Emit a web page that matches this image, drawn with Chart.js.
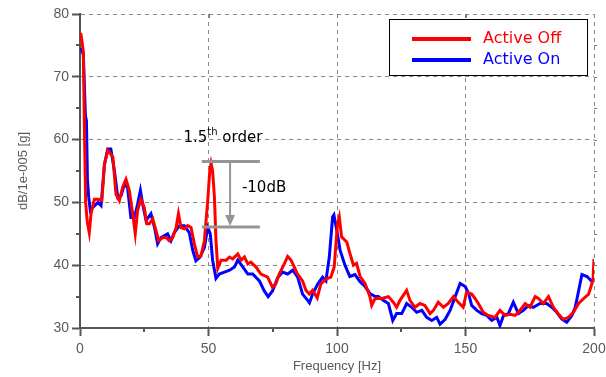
<!DOCTYPE html>
<html>
<head>
<meta charset="utf-8">
<script src="https://cdn.jsdelivr.net/npm/chart.js@4/dist/chart.umd.min.js"></script>
<style>
html,body{margin:0;padding:0;background:#fff;}
#wrap{width:606px;height:377px;position:relative;}
</style>
</head>
<body>
<div id="wrap"><canvas id="c" width="606" height="377"></canvas></div>
<script>
const seriesNames = ['Active Off', 'Active On'];
const freqOff = [0.3,1.3,1.7,2.2,2.8,3.6,4.3,5.6,7,8.5,9.5,10.8,11.5,12.8,14,15.3,16.6,17.9,19.2,20.5,21.5,22.4,23.7,25,26,27,28.3,29.6,30.6,32.2,33.5,34.7,36.1,37.4,38.3,39.3,40.6,41.9,43.2,44.5,45.8,47.1,48.4,49.7,50.5,51,51.6,52.3,52.9,53.6,54.9,56.9,58.2,59.4,61.4,62.7,64,65.3,66.5,68.5,70.4,73,74.9,76.2,77.5,79.5,80.8,82.1,83.4,84.6,86.6,87.9,89.2,90.5,92.3,93.7,95.7,97.6,98.9,100.2,100.9,101.8,103.8,105,106.4,107.6,109,110.9,112.8,113.5,114.8,117.4,120,121.9,123.2,124.5,127.1,128.4,130.3,132.3,134.2,136.2,137.5,139.4,141.4,143.3,145.3,147.2,149.1,150.4,152.4,153.7,155,156.9,158.9,161.5,163.4,165.4,167.3,169.3,171.2,173.2,175.1,177.1,178.4,180.3,182.3,184.2,186.2,188.1,190.1,192,194,196,197.9,199.6,200];
const dbOff = [77,74,62,50,47,45.2,48.2,50.5,50.5,50.3,56,58.3,58,57.2,51.3,50.3,52.4,53.7,51.9,48.2,45,48.7,50.5,49.2,46.6,46.6,47.4,45.5,43.9,44.4,44.4,43.9,44.4,46,48.2,46,45.8,46.3,46,43.4,41.3,41.5,43.9,50.3,55,56.2,55,50.9,44,39.5,40.8,40.8,41.3,41,41.8,40.8,41.3,40.2,40.5,39.7,38.6,38.1,36.5,37,38.6,40.2,41.4,40.8,39.7,38.6,37.5,36,35.4,36,34.8,37,37.8,38.1,39.7,46.6,47.7,44.5,43.7,41.9,40,40.3,38.2,37.1,35,33.6,34.7,34.7,35,34.1,33.3,34.4,36,34.4,33.3,33.9,33.6,32.3,32.8,34.1,33.3,33.9,35,34.1,33.3,35.7,35.4,34.7,33.9,32.5,32,31.7,32.8,32,32.2,32,32.8,33.9,33.3,35,34.7,33.9,35,33.3,32.2,31.4,31.7,32.5,33.9,34.7,35.4,37.6,41];
const freqOn = [0.4,1.3,2.1,2.5,2.9,3.4,4,5,7,8.2,9.5,10.8,12,13.4,14.7,16,17.3,18.5,19.8,21.2,22.4,23.5,24.4,25.7,27.6,29,30.2,31.5,34.1,35.4,36.7,38.7,40.6,42.5,43.9,45.1,46.7,48.4,49.7,50.7,51.6,52.9,54.2,56.2,58.2,60.1,61.4,63.4,65.3,67.2,69.8,71.7,73.2,74.9,76.9,78.8,80.8,82.8,84.7,86.6,88.6,89.3,90.5,92.5,94.4,95.7,97,98.3,98.8,99.9,101.2,103.1,105,107,108.9,110.9,112.8,114.8,116.1,118,120,121.7,123.2,125.2,127.1,129.1,131,133,134.9,136.9,138.8,140.1,142.1,144,146,147.9,149.9,151.2,152.4,154.4,156.3,158.3,160.2,162.2,163.4,164.8,166.7,168.6,170.6,172.5,174.5,176.4,179,181.6,183.6,185.5,187.5,189.4,191.4,192.7,194,195.3,197.3,199.2];
const dbOn = [74.6,73.5,63.8,63,53.5,50.8,48.7,49.2,50,49.5,56,58.5,58.5,55,50.8,51.1,52.9,52.4,47.6,47.6,49.7,51.9,49.7,47.1,48.2,46,43.4,44.4,45,43.9,45.2,46.3,46.3,45.2,42.3,40.7,41.3,42.8,46,45,40.8,37.9,38.6,38.9,39.2,39.7,40.8,39.7,38.6,38.6,37.5,35.9,35,35.9,38,38.9,38.6,39.2,38.1,35.4,34.4,34,35.4,37,38.1,37.5,41.3,47.7,48,45.6,42.4,40,38.2,38.5,37.4,36.6,35.5,35,35,34.4,33.9,31.2,32.3,32.3,33.9,33.3,32.5,32.8,31.7,31.2,31.7,30.6,31.4,32.8,35,37.1,36.6,35.5,33.6,32.8,32.3,32,31.2,31.7,30.4,32,32.3,34.1,32.3,32.8,33.6,33.3,33.9,33.9,33.3,32.5,31.4,30.9,32,33.3,35.9,38.5,38.2,37.4];
const xTicks = [0, 50, 100, 150, 200];
const yTicks = [30, 40, 50, 60, 70, 80];
const annoOrder = {label: '1.5', sup: 'th', rest: ' order', x: 55.6, y: 60.3};
const annoDrop = {label: '-10dB', xFrom: 47.4, xTo: 70, xArrow: 58.4, yHigh: 56.5, yLow: 46.1, xText: 63, yText: 52.3};

const toXY = (xs, ys) => xs.map((x, i) => ({x: x, y: ys[i]}));

const axisColor = '#555555';
const textColor = '#5a5a5a';

const extrasPlugin = {
  id: 'extras',
  afterDraw(chart) {
    const ctx = chart.ctx;
    const xs = chart.scales.x, ys = chart.scales.y;
    const a = chart.chartArea;
    ctx.save();
    // minor ticks
    ctx.strokeStyle = axisColor;
    ctx.lineWidth = 2;
    for (let v = 35; v < 80; v += 10) {
      const py = Math.round(ys.getPixelForValue(v));
      ctx.beginPath(); ctx.moveTo(a.left, py); ctx.lineTo(a.left - 4, py); ctx.stroke();
    }
    for (let v = 25; v < 200; v += 50) {
      const px = Math.round(xs.getPixelForValue(v));
      ctx.beginPath(); ctx.moveTo(px, a.bottom); ctx.lineTo(px, a.bottom + 4); ctx.stroke();
    }
    ctx.lineWidth = 1;
    ctx.strokeStyle = '#777';
    for (let v = 35; v < 80; v += 5) {
      const py = Math.round(ys.getPixelForValue(v)) + 0.5;
      ctx.beginPath(); ctx.moveTo(a.right, py); ctx.lineTo(a.right + 3, py); ctx.stroke();
    }
    for (let v = 50; v < 200; v += 50) {
      const px = Math.round(xs.getPixelForValue(v)) + 0.5;
      ctx.beginPath(); ctx.moveTo(px, a.top); ctx.lineTo(px, a.top + 4); ctx.stroke();
    }
    // annotation: -10dB bracket
    const gx1 = xs.getPixelForValue(annoDrop.xFrom), gx2 = xs.getPixelForValue(annoDrop.xTo);
    const gyH = ys.getPixelForValue(annoDrop.yHigh), gyL = ys.getPixelForValue(annoDrop.yLow);
    const gxA = xs.getPixelForValue(annoDrop.xArrow);
    ctx.strokeStyle = '#959595';
    ctx.fillStyle = '#959595';
    ctx.lineWidth = 3;
    ctx.beginPath(); ctx.moveTo(gx1, gyH); ctx.lineTo(gx2, gyH); ctx.stroke();
    ctx.beginPath(); ctx.moveTo(gx1, gyL); ctx.lineTo(gx2, gyL); ctx.stroke();
    ctx.lineWidth = 2;
    ctx.beginPath(); ctx.moveTo(gxA, gyH); ctx.lineTo(gxA, gyL - 10); ctx.stroke();
    ctx.beginPath(); ctx.moveTo(gxA - 5, gyL - 12); ctx.lineTo(gxA + 5, gyL - 12); ctx.lineTo(gxA, gyL - 1); ctx.closePath(); ctx.fill();
    // texts
    ctx.fillStyle = '#000';
    ctx.textBaseline = 'middle';
    ctx.textAlign = 'left';
    ctx.font = '15px "DejaVu Sans"';
    ctx.fillText(annoDrop.label, xs.getPixelForValue(annoDrop.xText), ys.getPixelForValue(annoDrop.yText));
    const ox = xs.getPixelForValue(annoOrder.x), oy = ys.getPixelForValue(annoOrder.y);
    ctx.font = '15px "DejaVu Sans"';
    const w1 = ctx.measureText(annoOrder.label).width;
    ctx.font = '10px "DejaVu Sans"';
    const w2 = ctx.measureText(annoOrder.sup).width;
    ctx.font = '15px "DejaVu Sans"';
    const w3 = ctx.measureText(annoOrder.rest).width;
    let sx = ox - (w1 + w2 + w3) / 2;
    ctx.fillText(annoOrder.label, sx, oy);
    ctx.font = '10px "DejaVu Sans"';
    ctx.fillText(annoOrder.sup, sx + w1, oy - 5);
    ctx.font = '15px "DejaVu Sans"';
    ctx.fillText(annoOrder.rest, sx + w1 + w2, oy);
    // legend
    const bx = a.right - 205, by = a.top + 5, bw = 198, bh = 56;
    ctx.fillStyle = '#fff';
    ctx.fillRect(bx, by, bw, bh);
    ctx.strokeStyle = '#000';
    ctx.lineWidth = 1;
    ctx.strokeRect(bx + 0.5, by + 0.5, bw, bh);
    const ds = chart.data.datasets;
    ds.forEach((d, i) => {
      const ly = by + 20 + i * 21;
      ctx.strokeStyle = d.borderColor;
      ctx.lineWidth = 4;
      ctx.beginPath(); ctx.moveTo(bx + 23, ly); ctx.lineTo(bx + 82, ly); ctx.stroke();
      ctx.fillStyle = d.borderColor;
      ctx.font = '16px "DejaVu Sans"';
      ctx.textBaseline = 'middle';
      ctx.fillText(d.label, bx + 94, ly);
    });
    ctx.restore();
  }
};

new Chart(document.getElementById('c'), {
  type: 'line',
  data: {
    datasets: [
      {label: seriesNames[0], data: toXY(freqOff, dbOff), borderColor: '#ff0000', borderWidth: 3, pointRadius: 0, tension: 0, fill: false},
      {label: seriesNames[1], data: toXY(freqOn, dbOn), borderColor: '#0000ff', borderWidth: 3, pointRadius: 0, tension: 0, fill: false}
    ]
  },
  options: {
    responsive: false,
    animation: false,
    events: [],
    layout: {padding: {top: 14, right: 12, left: 0, bottom: 0}},
    plugins: {legend: {display: false}, tooltip: {enabled: false}},
    scales: {
      x: {
        type: 'linear', min: 0, max: 200,
        afterBuildTicks: s => { s.ticks = xTicks.map(v => ({value: v})); },
        afterFit: s => { s.height = 49; s.paddingLeft = 0; s.paddingRight = 0; },
        ticks: {color: textColor, font: {family: 'Liberation Sans', size: 14}, padding: 5, maxRotation: 0},
        grid: {color: '#8a8a8a', lineWidth: 1, tickLength: 8, tickColor: axisColor, tickWidth: 2},
        border: {display: true, color: axisColor, width: 2, dash: [4, 4]},
        title: {display: true, text: 'Frequency [Hz]', color: textColor, font: {family: 'Liberation Sans', size: 13}, padding: {top: 0, bottom: 3}}
      },
      y: {
        type: 'linear', min: 30, max: 80,
        afterBuildTicks: s => { s.ticks = yTicks.map(v => ({value: v})); },
        afterFit: s => { s.width = 80; s.paddingTop = 0; s.paddingBottom = 0; },
        ticks: {color: textColor, font: {family: 'Liberation Sans', size: 14}, padding: 3},
        grid: {color: '#8a8a8a', lineWidth: 1, tickLength: 8, tickColor: axisColor, tickWidth: 2},
        border: {display: true, color: axisColor, width: 2, dash: [4, 4]},
        title: {display: true, text: 'dB/1e-005 [g]', color: textColor, font: {family: 'Liberation Sans', size: 13}, padding: {top: 16, bottom: 0}}
      }
    }
  },
  plugins: [extrasPlugin]
});
</script>
</body>
</html>
